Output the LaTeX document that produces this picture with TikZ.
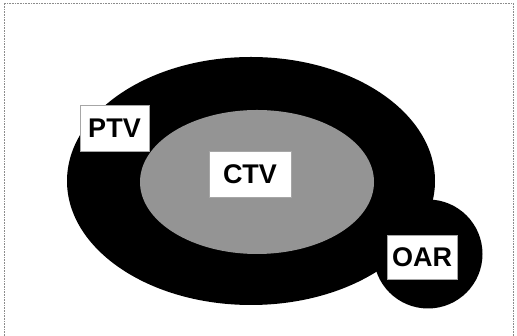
\documentclass[tikz,border=0pt]{standalone}
\usepackage{fontspec}
\setmainfont{Liberation Sans}
\usetikzlibrary{shapes.geometric}
\begin{document}
\begin{tikzpicture}[x=1pt,y=1pt,
  lbl/.style={draw=black!35, line width=0.4pt, fill=white, font=\bfseries\fontsize{27}{30}\selectfont, inner sep=0pt, minimum height=46pt}]
\useasboundingbox (0,0) rectangle (517,336);
\draw[black!45, line width=0.6pt, densely dotted] (4,0) -- (4,333) -- (513,333) -- (513,0);
\fill[black] (251,155) ellipse [x radius=184, y radius=124];
\fill[black] (428,82) circle [radius=54.5];
\fill[black!42] (257,154) ellipse [x radius=117, y radius=72];
\node[lbl, minimum width=69pt] (ptv) at (114.5,208) {PTV};
\node[lbl, minimum width=82pt] (ctv) at (250,162) {CTV};
\node[lbl, minimum width=70pt, minimum height=44pt] (oar) at (422,79) {OAR};
\end{tikzpicture}
\end{document}
